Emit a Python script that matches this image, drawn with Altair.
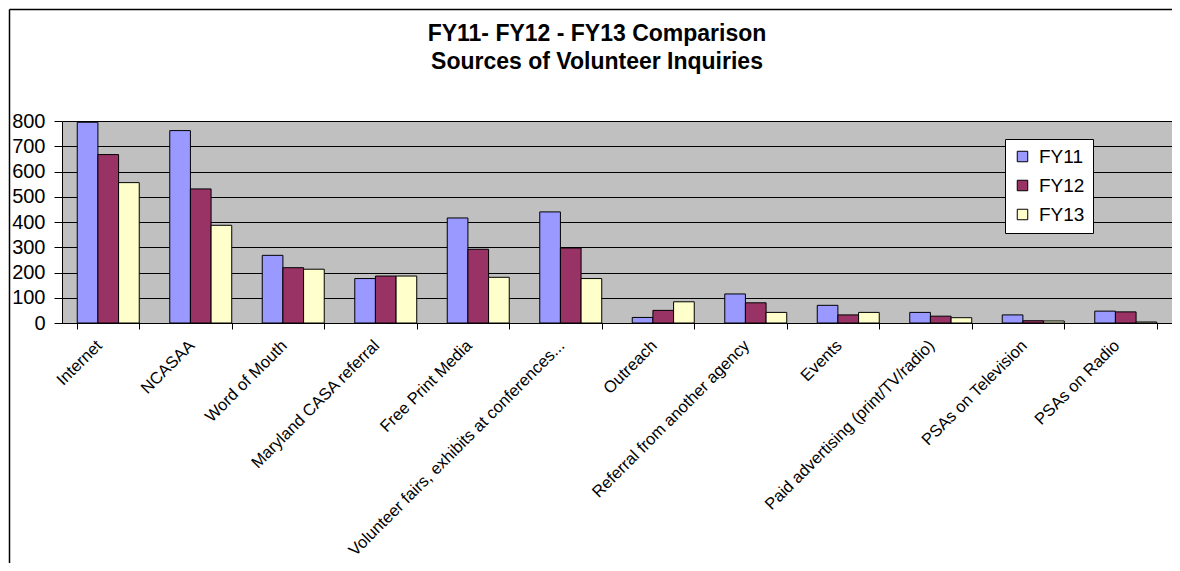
import altair as alt
import pandas as pd

categories = [
    "Internet", "NCASAA", "Word of Mouth", "Maryland CASA referral",
    "Free Print Media", "Volunteer fairs, exhibits at conferences...",
    "Outreach", "Referral from another agency", "Events",
    "Paid advertising (print/TV/radio)", "PSAs on Television", "PSAs on Radio",
]
years = ["FY11", "FY12", "FY13"]
fy11 = [795, 762, 268, 176, 416, 440, 22, 115, 70, 42, 32, 47]
fy12 = [667, 531, 219, 186, 292, 297, 50, 80, 32, 27, 9, 44]
fy13 = [556, 387, 213, 186, 181, 176, 84, 42, 42, 21, 8, 4]
colors = ["#9999FF", "#993366", "#FFFFCC"]
y_ticks = [0, 100, 200, 300, 400, 500, 600, 700, 800]
title_lines = ["FY11- FY12 - FY13 Comparison", "Sources of Volunteer Inquiries"]

rows = []
for yr, vals in zip(years, [fy11, fy12, fy13]):
    for c, v in zip(categories, vals):
        rows.append({"category": c, "year": yr, "value": v})
df = pd.DataFrame(rows)

FONT = "Liberation Sans"

bars = alt.Chart(df).mark_bar(stroke="black", strokeWidth=1).encode(
    x=alt.X("category:N", sort=categories,
            scale=alt.Scale(paddingInner=0.33, paddingOuter=0.165),
            axis=alt.Axis(title=None, labelAngle=-45, labelAlign="right",
                          labelBaseline="top", labelOffset=-15, labelPadding=8,
                          labelFontSize=16.5, labelColor="black", tickBand="extent",
                          tickSize=6, tickColor="black", domainColor="black",
                          labelFont=FONT, grid=False, labelLimit=500)),
    xOffset=alt.XOffset("year:N", sort=years,
                        scale=alt.Scale(paddingInner=0, paddingOuter=0)),
    y=alt.Y("value:Q", scale=alt.Scale(domain=[0, 800], nice=False),
            axis=alt.Axis(title=None, values=y_ticks, labelFontSize=20,
                          labelColor="black", labelFont=FONT, tickSize=8,
                          tickColor="black", labelPadding=9, domainColor="black",
                          grid=True, gridColor="black", gridWidth=1)),
    color=alt.Color("year:N", sort=years,
                    scale=alt.Scale(domain=years, range=colors),
                    legend=alt.Legend(title=None, orient="none", legendX=943, legendY=18,
                                      fillColor="white", strokeColor="black",
                                      padding=8, symbolType="square", symbolSize=110,
                                      symbolStrokeColor="black", symbolStrokeWidth=1,
                                      symbolOpacity=1,
                                      labelFontSize=19, labelFont=FONT, labelColor="black",
                                      labelOffset=7, rowPadding=9)),
)

title1 = alt.Chart(pd.DataFrame({"t": [title_lines[0]]})).mark_text(
    font=FONT, fontSize=23, fontWeight="bold", color="black",
    align="center", baseline="alphabetic").encode(
    text="t:N", x=alt.value(535), y=alt.value(-80))
title2 = alt.Chart(pd.DataFrame({"t": [title_lines[1]]})).mark_text(
    font=FONT, fontSize=23, fontWeight="bold", color="black",
    align="center", baseline="alphabetic").encode(
    text="t:N", x=alt.value(535), y=alt.value(-52))

border_left = alt.Chart(pd.DataFrame({"a": [0]})).mark_rule(color="black", strokeWidth=1.5).encode(
    x=alt.value(-52.5), y=alt.value(-111.5), y2=alt.value(460))
border_top = alt.Chart(pd.DataFrame({"a": [0]})).mark_rule(color="black", strokeWidth=1.5).encode(
    x=alt.value(-52.5), x2=alt.value(1130), y=alt.value(-111.5))

chart = alt.layer(bars, title1, title2, border_left, border_top).properties(
    width=1110, height=202,
    autosize=alt.AutoSizeParams(type="none"),
    padding={"left": 54, "top": 113, "right": 0, "bottom": 240},
).configure_view(fill="#C0C0C0", stroke="#808080", strokeWidth=1)

chart.save("out.html", embed_options={"renderer": "svg", "actions": False})
